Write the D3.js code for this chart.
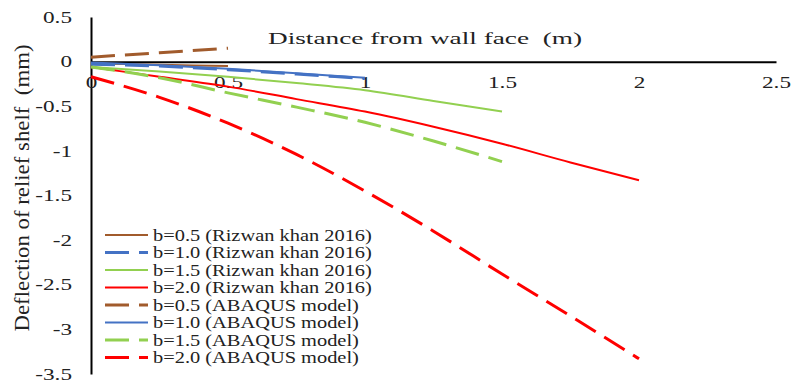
<html>
<head>
<meta charset="utf-8">
<script src="https://cdn.jsdelivr.net/npm/d3@7/dist/d3.min.js"></script>
<style>
  body { margin: 0; background: #fff; }
  text { font-family: "Liberation Serif", "Times New Roman", serif; fill: #222; }
  .axis path { stroke: #000; stroke-width: 2; fill: none; }
  .axis text { font-size: 16px; }
</style>
</head>
<body>
<script>
// x positions (m)
var xHalf = [0, 0.25, 0.5];
var xOne = [0, 0.25, 0.5, 0.75, 1];
var xOneHalf = [0, 0.25, 0.5, 0.75, 1, 1.25, 1.5];
var xTwo = [0, 0.25, 0.5, 0.75, 1, 1.25, 1.5, 1.75, 2];

// deflections (mm)
var rizwan05 = [-0.02, -0.035, -0.05];
var rizwan10 = [-0.03, -0.05, -0.09, -0.14, -0.19];
var rizwan15 = [-0.06, -0.11, -0.17, -0.24, -0.32, -0.44, -0.56];
var rizwan20 = [-0.06, -0.17, -0.28, -0.42, -0.56, -0.73, -0.92, -1.13, -1.33];
var abaqus05 = [0.05, 0.10, 0.15];
var abaqus10 = [-0.01, -0.04, -0.08, -0.13, -0.18];
var abaqus15 = [-0.06, -0.18, -0.35, -0.51, -0.68, -0.89, -1.12];
var abaqus20 = [-0.17, -0.40, -0.69, -1.04, -1.45, -1.90, -2.38, -2.85, -3.33];

var seriesNames = ['b=0.5 (Rizwan khan 2016)', 'b=1.0 (Rizwan khan 2016)', 'b=1.5 (Rizwan khan 2016)', 'b=2.0 (Rizwan khan 2016)',
                   'b=0.5 (ABAQUS model)', 'b=1.0 (ABAQUS model)', 'b=1.5 (ABAQUS model)', 'b=2.0 (ABAQUS model)'];
var seriesColors = ['#a15b2c', '#4472c4', '#92d050', '#ff0000', '#a15b2c', '#4472c4', '#92d050', '#ff0000'];
var seriesDashed = [false, true, false, false, true, false, true, true];

var xTicks = [0, 0.5, 1, 1.5, 2, 2.5];
var xTickLabels = ['0', '0.5', '1', '1.5', '2', '2.5'];
var yTicks = [0.5, 0, -0.5, -1, -1.5, -2, -2.5, -3, -3.5];
var yTickLabels = ['0.5', '0', '-0.5', '-1', '-1.5', '-2', '-2.5', '-3', '-3.5'];

var xs = [xHalf, xOne, xOneHalf, xTwo, xHalf, xOne, xOneHalf, xTwo];
var ys = [rizwan05, rizwan10, rizwan15, rizwan20, abaqus05, abaqus10, abaqus15, abaqus20];
var series = ys.map(function(vals, i) {
  return { name: seriesNames[i], color: seriesColors[i], dashed: seriesDashed[i],
           points: vals.map(function(v, j) { return { x: xs[i][j], y: v }; }) };
});

var width = 794, height = 388;
var x = d3.scaleLinear().domain([0, 2.5]).range([91, 776]);
var y = d3.scaleLinear().domain([-3.5, 0.5]).range([374, 17]);

var svg = d3.select('body').append('svg')
  .attr('width', width).attr('height', height);

// stretch text horizontally like the source picture
function stretch(sel, k) {
  sel.each(function() {
    var w = this.getComputedTextLength();
    d3.select(this).attr('textLength', w * k).attr('lengthAdjust', 'spacingAndGlyphs');
  });
}

var yAxis = svg.append('g')
  .attr('class', 'axis')
  .attr('transform', 'translate(' + x(0) + ',0)')
  .call(d3.axisLeft(y).tickValues(yTicks).tickSize(0).tickSizeOuter(0).tickPadding(19)
        .tickFormat(function(d, i) { return yTickLabels[i]; }));
yAxis.selectAll('text').call(stretch, 1.45);

var xAxis = svg.append('g')
  .attr('class', 'axis')
  .attr('transform', 'translate(0,' + y(0) + ')')
  .call(d3.axisBottom(x).tickValues(xTicks).tickSize(0).tickSizeOuter(0).tickPadding(15)
        .tickFormat(function(d, i) { return xTickLabels[i]; }));
xAxis.selectAll('text').call(stretch, 1.45);

svg.append('text')
  .attr('x', 268).attr('y', 44)
  .style('font-size', '17px')
  .attr('textLength', 314).attr('lengthAdjust', 'spacingAndGlyphs')
  .attr('xml:space', 'preserve')
  .text('Distance from wall face  (m)');

svg.append('text')
  .attr('transform', 'translate(29,188) rotate(-90)')
  .attr('text-anchor', 'middle')
  .style('font-size', '22px')
  .attr('textLength', 287).attr('lengthAdjust', 'spacingAndGlyphs')
  .attr('xml:space', 'preserve')
  .text('Deflection of relief shelf  (mm)');

var line = d3.line()
  .x(function(d) { return x(d.x); })
  .y(function(d) { return y(d.y); })
  .curve(d3.curveMonotoneX);

svg.selectAll('.series')
  .data(series)
  .enter()
  .append('path')
  .attr('class', 'series')
  .attr('d', function(d) { return line(d.points); })
  .attr('fill', 'none')
  .attr('stroke', function(d) { return d.color; })
  .attr('stroke-width', function(d) { return d.dashed ? 3 : 2; })
  .attr('stroke-dasharray', function(d) { return d.dashed ? '24,10' : null; });

// legend
var legend = svg.selectAll('.leg')
  .data(series)
  .enter()
  .append('g')
  .attr('class', 'leg')
  .attr('transform', function(d, i) { return 'translate(105,' + (235 + i * 17.5) + ')'; });
legend.append('line')
  .attr('x1', 0).attr('x2', 43).attr('y1', 0).attr('y2', 0)
  .attr('stroke', function(d) { return d.color; })
  .attr('stroke-width', function(d) { return d.dashed ? 3 : 2; })
  .attr('stroke-dasharray', function(d) { return d.dashed ? '24,10' : null; });
legend.append('text')
  .attr('x', 48).attr('dy', '0.35em')
  .style('font-size', '17px')
  .text(function(d) { return d.name; })
  .call(stretch, 1.2);
</script>
</body>
</html>
